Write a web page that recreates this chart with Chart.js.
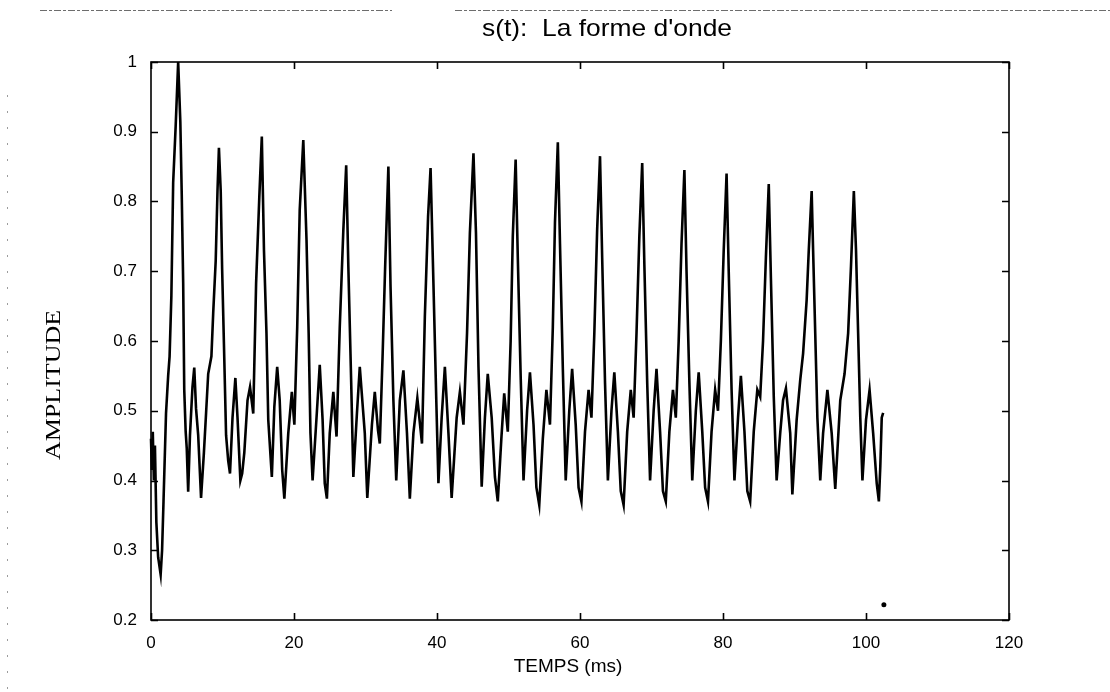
<!DOCTYPE html>
<html>
<head>
<meta charset="utf-8">
<script src="https://cdn.jsdelivr.net/npm/chart.js@4.4.1/dist/chart.umd.min.js"></script>
<style>
  html, body { margin: 0; padding: 0; background: #fff; }
  #wrap { width: 1110px; height: 692px; }
</style>
</head>
<body>
<div id="wrap"><canvas id="c" width="1110" height="692"></canvas></div>
<script>
// ---- data ----
const chartTitle = "s(t):  La forme d'onde";
const xAxisTitle = "TEMPS (ms)";
const yAxisTitle = "AMPLITUDE";
const xTickLabels = ["0", "20", "40", "60", "80", "100", "120"];
const yTickLabels = ["0.2", "0.3", "0.4", "0.5", "0.6", "0.7", "0.8", "0.9", "1"];

// [time (ms), amplitude]
const waveformPoints = [
  [0.0,0.46],[0.12,0.415],[0.25,0.47],[0.4,0.40],[0.55,0.45],[0.75,0.34],[1.0,0.29],[1.35,0.265],
  [1.55,0.30],[1.75,0.37],[2.1,0.496],[2.4,0.55],[2.6,0.578],[2.85,0.665],[3.1,0.827],[3.45,0.908],
  [3.8,1.0],[4.1,0.915],[4.3,0.81],[4.5,0.684],[4.65,0.53],[4.85,0.47],[5.0,0.446],[5.2,0.384],
  [5.45,0.465],[5.8,0.534],[6.05,0.562],[6.3,0.503],[6.6,0.465],[7.0,0.375],[7.4,0.44],[7.7,0.496],
  [8.0,0.553],[8.45,0.578],[8.7,0.64],[9.05,0.715],[9.3,0.815],[9.5,0.877],[9.75,0.815],[9.95,0.703],
  [10.2,0.596],[10.5,0.465],[10.8,0.428],[11.05,0.41],[11.4,0.49],[11.8,0.547],[12.1,0.49],[12.5,0.40],
  [12.75,0.41],[13.05,0.44],[13.5,0.515],[13.85,0.534],[14.3,0.496],[14.7,0.683],[15.15,0.807],[15.5,0.893],
  [15.8,0.73],[16.15,0.611],[16.4,0.487],[16.9,0.405],[17.25,0.506],[17.65,0.563],[18.0,0.515],[18.35,0.415],
  [18.65,0.374],[19.2,0.468],[19.7,0.527],[20.05,0.48],[20.45,0.62],[20.8,0.788],[21.3,0.888],[21.75,0.745],
  [22.05,0.611],[22.3,0.468],[22.6,0.40],[23.15,0.49],[23.6,0.566],[24.0,0.487],[24.3,0.396],[24.6,0.374],
  [25.0,0.468],[25.5,0.527],[25.95,0.463],[26.4,0.62],[26.9,0.759],[27.3,0.852],[27.6,0.707],[28.0,0.54],
  [28.3,0.405],[28.8,0.496],[29.2,0.563],[29.9,0.468],[30.25,0.375],[30.9,0.48],[31.3,0.527],[31.75,0.472],
  [32.0,0.453],[32.4,0.582],[32.75,0.707],[33.2,0.85],[33.5,0.678],[33.9,0.515],[34.3,0.40],[34.8,0.515],
  [35.3,0.558],[35.8,0.468],[36.2,0.374],[36.7,0.468],[37.25,0.518],[37.9,0.453],[38.3,0.635],[38.75,0.778],
  [39.1,0.848],[39.5,0.683],[39.9,0.515],[40.2,0.396],[40.65,0.49],[41.1,0.563],[41.6,0.468],[42.05,0.375],
  [42.75,0.49],[43.2,0.527],[43.7,0.48],[44.2,0.611],[44.6,0.755],[45.1,0.869],[45.45,0.755],[45.8,0.563],
  [46.25,0.391],[46.7,0.49],[47.1,0.553],[47.65,0.49],[48.1,0.405],[48.5,0.37],[49.0,0.46],[49.4,0.525],
  [49.9,0.47],[50.3,0.60],[50.6,0.75],[51.0,0.86],[51.3,0.72],[51.7,0.55],[52.1,0.40],[52.6,0.50],
  [53.0,0.555],[53.5,0.48],[53.9,0.39],[54.3,0.365],[54.8,0.46],[55.3,0.53],[55.8,0.48],[56.2,0.62],
  [56.5,0.77],[56.9,0.885],[57.2,0.74],[57.6,0.56],[58.0,0.40],[58.5,0.50],[58.9,0.56],[59.4,0.48],
  [59.8,0.39],[60.2,0.37],[60.7,0.47],[61.2,0.53],[61.6,0.49],[62.0,0.61],[62.4,0.76],[62.8,0.865],
  [63.1,0.72],[63.5,0.54],[63.9,0.40],[64.4,0.50],[64.8,0.555],[65.3,0.47],[65.7,0.385],[66.1,0.365],
  [66.6,0.47],[67.1,0.53],[67.5,0.49],[67.9,0.61],[68.3,0.75],[68.7,0.855],[69.0,0.71],[69.4,0.54],
  [69.8,0.40],[70.3,0.50],[70.7,0.56],[71.2,0.47],[71.6,0.385],[72.0,0.37],[72.5,0.47],[73.0,0.53],
  [73.4,0.49],[73.8,0.60],[74.2,0.74],[74.6,0.845],[74.9,0.70],[75.3,0.54],[75.7,0.40],[76.2,0.50],
  [76.6,0.555],[77.1,0.47],[77.5,0.39],[77.9,0.37],[78.4,0.47],[78.9,0.53],[79.3,0.50],[79.7,0.60],
  [80.1,0.73],[80.5,0.84],[80.8,0.70],[81.2,0.53],[81.6,0.40],[82.1,0.49],[82.5,0.55],[83.0,0.47],
  [83.4,0.385],[83.8,0.37],[84.3,0.47],[84.8,0.53],[85.2,0.52],[85.6,0.60],[86.0,0.72],[86.4,0.825],
  [86.7,0.69],[87.1,0.52],[87.5,0.40],[88.0,0.468],[88.4,0.515],[88.8,0.532],[89.4,0.468],[89.7,0.38],
  [90.3,0.487],[90.8,0.544],[91.2,0.582],[91.7,0.659],[92.0,0.731],[92.4,0.815],[92.6,0.731],[92.9,0.611],
  [93.2,0.49],[93.6,0.40],[94.0,0.468],[94.6,0.53],[95.2,0.468],[95.7,0.388],[96.4,0.515],[97.0,0.553],
  [97.5,0.611],[97.9,0.707],[98.3,0.815],[98.6,0.731],[98.9,0.611],[99.2,0.49],[99.5,0.40],[100.0,0.487],
  [100.5,0.53],[101.0,0.468],[101.5,0.396],[101.8,0.37],[102.0,0.42],[102.2,0.49],[102.4,0.497]
];

// stray dot visible near the bottom right of the plot
const strayDot = [[102.5, 0.222]];

// ---- plugins ----
const paperPlugin = {
  id: 'paper',
  beforeDraw(chart) {
    const ctx = chart.ctx;
    ctx.save();
    ctx.fillStyle = '#fff';
    ctx.fillRect(0, 0, chart.width, chart.height);
    ctx.strokeStyle = 'rgba(60,60,60,0.75)';
    ctx.lineWidth = 1;
    ctx.setLineDash([7, 2, 3, 2]);
    ctx.beginPath();
    ctx.moveTo(40, 10.5); ctx.lineTo(392, 10.5);
    ctx.moveTo(455, 10.5); ctx.lineTo(1110, 10.5);
    ctx.stroke();
    ctx.strokeStyle = 'rgba(90,90,90,0.6)';
    ctx.setLineDash([2, 14]);
    ctx.beginPath();
    ctx.moveTo(7.5, 95); ctx.lineTo(7.5, 692);
    ctx.stroke();
    ctx.restore();
  }
};

const textPlugin = {
  id: 'texts',
  afterDraw(chart) {
    const ctx = chart.ctx;
    ctx.save();
    ctx.fillStyle = '#000';
    ctx.textAlign = 'center';
    ctx.textBaseline = 'middle';
    // chart title
    ctx.save();
    ctx.translate(607, 29);
    ctx.scale(1.1, 1);
    ctx.font = "24px 'Liberation Sans', Arial, sans-serif";
    ctx.fillText(chartTitle, 0, 0);
    ctx.restore();
    // x axis title
    ctx.font = "19px 'Liberation Sans', Arial, sans-serif";
    ctx.fillText(xAxisTitle, 568, 667);
    // y axis title (serif, rotated)
    ctx.save();
    ctx.translate(55, 385);
    ctx.rotate(-Math.PI / 2);
    ctx.scale(1.3, 1);
    ctx.font = "20px 'Liberation Serif', 'Times New Roman', serif";
    ctx.fillText(yAxisTitle, 0, 0);
    ctx.restore();
    ctx.restore();
  }
};

const framePlugin = {
  id: 'frame',
  afterDatasetsDraw(chart) {
    const { ctx, chartArea: a, scales } = chart;
    const xs = scales.x, ys = scales.y;
    const L = 7;
    ctx.save();
    ctx.strokeStyle = '#000';
    ctx.lineWidth = 1.6;
    ctx.setLineDash([]);
    ctx.strokeRect(a.left, a.top, a.right - a.left, a.bottom - a.top);
    ctx.beginPath();
    xs.ticks.forEach(t => {
      const px = Math.round(xs.getPixelForValue(t.value)) + 0.5;
      ctx.moveTo(px, a.bottom); ctx.lineTo(px, a.bottom - L);
      ctx.moveTo(px, a.top); ctx.lineTo(px, a.top + L);
    });
    ys.ticks.forEach(t => {
      const py = Math.round(ys.getPixelForValue(t.value)) + 0.5;
      ctx.moveTo(a.left, py); ctx.lineTo(a.left + L, py);
      ctx.moveTo(a.right, py); ctx.lineTo(a.right - L, py);
    });
    ctx.stroke();
    ctx.restore();
  }
};

const tickFont = { family: "'Liberation Sans', Arial, sans-serif", size: 17 };

new Chart(document.getElementById('c'), {
  type: 'line',
  data: {
    datasets: [
      {
        data: waveformPoints.map(p => ({ x: p[0], y: p[1] })),
        borderColor: '#000',
        borderWidth: 2.6,
        pointRadius: 0,
        tension: 0,
        fill: false,
        clip: false
      },
      {
        type: 'scatter',
        data: strayDot.map(p => ({ x: p[0], y: p[1] })),
        pointRadius: 2.5,
        pointBackgroundColor: '#000',
        pointBorderWidth: 0,
        showLine: false
      }
    ]
  },
  options: {
    responsive: false,
    animation: false,
    events: [],
    layout: { padding: { top: 62, left: 0, right: 101, bottom: 0 } },
    plugins: {
      legend: { display: false },
      tooltip: { enabled: false },
      title: { display: false }
    },
    scales: {
      x: {
        type: 'linear',
        min: 0, max: 120,
        grid: { display: false, drawTicks: false },
        border: { display: false },
        ticks: {
          stepSize: 20,
          color: '#000',
          font: tickFont,
          padding: 13,
          maxRotation: 0,
          callback: (v) => xTickLabels[Math.round(v / 20)]
        },
        title: { display: false },
        afterFit(scale) { scale.height = 72; }
      },
      y: {
        min: 0.2, max: 1,
        grid: { display: false, drawTicks: false },
        border: { display: false },
        ticks: {
          stepSize: 0.1,
          color: '#000',
          font: tickFont,
          padding: 14,
          callback: (v) => yTickLabels[Math.round((v - 0.2) / 0.1)]
        },
        title: { display: false },
        afterFit(scale) { scale.width = 151; }
      }
    }
  },
  plugins: [paperPlugin, textPlugin, framePlugin]
});
</script>
</body>
</html>
